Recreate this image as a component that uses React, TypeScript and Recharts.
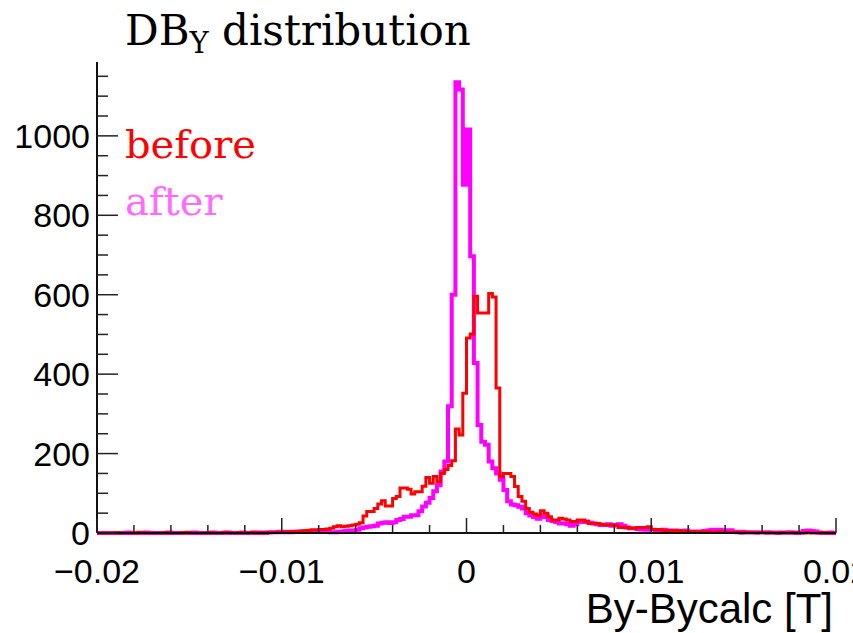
import React from 'react';
import { LineChart, Line, XAxis, YAxis } from 'recharts';

// 200 bins from -0.02 to 0.02 T
const X_MIN = -0.02;
const X_MAX = 0.02;
const BIN_WIDTH = 0.0002;

const beforeCounts = [
  0, 0, 0, 0, 0, 1, 0, 0, 0, 0,
  0, 2, 1, 0, 0, 0, 0, 0, 1, 0,
  0, 0, 0, 1, 2, 0, 0, 0, 0, 0,
  1, 0, 0, 0, 2, 1, 0, 0, 1, 0,
  0, 1, 2, 0, 1, 0, 2, 1, 2, 2,
  2, 3, 3, 4, 4, 5, 6, 7, 8, 8,
  9, 9, 10, 12, 16, 18, 16, 17, 18, 20,
  22, 26, 43, 54, 54, 62, 73, 81, 68, 68,
  87, 92, 113, 113, 110, 98, 104, 104, 118, 140,
  125, 142, 129, 150, 160, 170, 182, 262, 247, 352,
  491, 501, 596, 554, 554, 554, 603, 594, 365, 142,
  150, 150, 142, 117, 92, 80, 62, 52, 48, 44,
  56, 50, 41, 33, 33, 37, 35, 33, 29, 29,
  33, 33, 29, 24, 24, 24, 22, 20, 20, 20,
  20, 14, 14, 14, 12, 12, 14, 14, 14, 16,
  9, 9, 8, 6, 6, 6, 5, 6, 5, 4,
  3, 4, 2, 3, 2, 3, 1, 2, 3, 2,
  2, 1, 2, 1, 0, 2, 1, 1, 0, 1,
  1, 0, 1, 0, 0, 1, 0, 0, 1, 0,
  0, 0, 1, 0, 0, 0, 1, 0, 0, 0,
];

const afterCounts = [
  0, 0, 0, 0, 0, 0, 0, 0, 1, 0,
  0, 0, 0, 1, 0, 0, 0, 0, 0, 1,
  0, 0, 0, 0, 0, 0, 1, 0, 0, 0,
  0, 1, 0, 0, 0, 1, 0, 0, 0, 1,
  0, 0, 1, 0, 1, 0, 1, 2, 2, 3,
  2, 3, 2, 3, 4, 3, 4, 3, 3, 4,
  3, 4, 3, 2, 2, 3, 4, 5, 6, 6,
  8, 12, 14, 16, 17, 18, 24, 26, 27, 25,
  27, 33, 35, 41, 41, 45, 45, 55, 67, 76,
  88, 105, 120, 155, 180, 319, 600, 1135, 1117, 1016,
  877, 697, 428, 272, 230, 222, 180, 163, 150, 134,
  108, 80, 72, 70, 66, 62, 50, 44, 40, 36,
  40, 44, 33, 30, 28, 24, 24, 22, 18, 22,
  29, 28, 29, 26, 24, 22, 20, 20, 22, 18,
  20, 22, 18, 14, 12, 12, 10, 9, 8, 8,
  8, 6, 7, 8, 6, 5, 6, 5, 4, 6,
  4, 3, 4, 3, 5, 6, 8, 7, 8, 7,
  6, 7, 3, 2, 3, 2, 1, 2, 2, 1,
  1, 2, 1, 1, 0, 1, 1, 2, 1, 0,
  1, 5, 6, 5, 4, 1, 0, 0, 1, 0,
];

// the two central "after" bins jitter so fast they look filled: quarter-bin reading
const afterCore = [877, 1016, 877, 1016, 877, 1016, 877, 1016];
const CORE_FIRST_BIN = 99;

const xTicks = [-0.02, -0.01, 0, 0.01, 0.02];
const xTickLabels = ['\u22120.02', '\u22120.01', '0', '0.01', '0.02'];
const yTicks = [0, 200, 400, 600, 800, 1000];
const Y_MAX = 1186;

const xMinorTicks = Array.from({ length: 21 }, (_, i) => X_MIN + i * 0.002);
const yMinorTicks = Array.from({ length: 24 }, (_, i) => i * 50);

const toSteps = (counts: number[], core?: number[]) => {
  const pts: { x: number; y: number }[] = [];
  counts.forEach((c, i) => {
    const x0 = X_MIN + i * BIN_WIDTH;
    if (core && i >= CORE_FIRST_BIN && i < CORE_FIRST_BIN + 2) {
      if (i === CORE_FIRST_BIN) {
        core.forEach((v, j) => pts.push({ x: x0 + (j * BIN_WIDTH) / 4, y: v }));
      }
      return;
    }
    pts.push({ x: x0, y: c });
  });
  pts.push({ x: X_MAX, y: counts[counts.length - 1] });
  return pts;
};

const beforeData = toSteps(beforeCounts);
const afterData = toSteps(afterCounts, afterCore);

const SANS = '"Liberation Sans", Arial, Helvetica, sans-serif';
const SERIF = '"DejaVu Serif", Georgia, serif';

const XTick = (props: any) => {
  const { x, y, payload } = props;
  const idx = xTicks.findIndex((t) => Math.abs(t - payload.value) < 1e-9);
  const major = idx >= 0;
  return (
    <g>
      <line x1={x} x2={x} y1={y} y2={y - (major ? 15 : 8)} stroke="#222" strokeWidth={1.5} />
      {major && (
        <text x={x} y={y + 50} textAnchor="middle" fontSize={34} fontFamily={SANS} fill="#000">
          {xTickLabels[idx]}
        </text>
      )}
    </g>
  );
};

const YTick = (props: any) => {
  const { x, y, payload } = props;
  const major = yTicks.includes(payload.value);
  return (
    <g>
      <line x1={x} x2={x + (major ? 21 : 11)} y1={y} y2={y} stroke="#222" strokeWidth={1.5} />
      {major && (
        <text x={x - 7} y={y + 12} textAnchor="end" fontSize={34} fontFamily={SANS} fill="#000">
          {payload.value}
        </text>
      )}
    </g>
  );
};

export default function App() {
  return (
    <div style={{ position: 'absolute', left: 0, top: 0, width: 853, height: 633, background: '#fff' }}>
      <LineChart width={853} height={633} margin={{ top: 62, right: 17, bottom: 0, left: 0 }}>
        <XAxis
          xAxisId="x"
          dataKey="x"
          type="number"
          domain={[X_MIN, X_MAX]}
          ticks={xMinorTicks}
          interval={0}
          tick={<XTick />}
          tickLine={false}
          tickSize={0}
          tickMargin={0}
          height={100}
          axisLine={{ stroke: '#111', strokeWidth: 2 }}
        />
        <XAxis
          xAxisId="top"
          orientation="top"
          dataKey="x"
          type="number"
          domain={[X_MIN, X_MAX]}
          tick={false}
          tickLine={false}
          height={0}
          axisLine={{ stroke: '#111', strokeWidth: 2 }}
        />
        <YAxis
          yAxisId="y"
          type="number"
          domain={[0, Y_MAX]}
          ticks={yMinorTicks}
          interval={0}
          tick={<YTick />}
          tickLine={false}
          tickSize={0}
          tickMargin={0}
          width={97}
          axisLine={{ stroke: '#111', strokeWidth: 2 }}
        />
        <YAxis
          yAxisId="right"
          orientation="right"
          type="number"
          domain={[0, Y_MAX]}
          tick={false}
          tickLine={false}
          width={0}
          axisLine={{ stroke: '#111', strokeWidth: 2 }}
        />
        <Line
          xAxisId="x"
          yAxisId="y"
          data={afterData}
          dataKey="y"
          type="stepAfter"
          stroke="#ff00ff"
          strokeWidth={4}
          dot={false}
          activeDot={false}
          isAnimationActive={false}
        />
        <Line
          xAxisId="x"
          yAxisId="y"
          data={beforeData}
          dataKey="y"
          type="stepAfter"
          stroke="#ff0000"
          strokeWidth={3}
          dot={false}
          activeDot={false}
          isAnimationActive={false}
        />
      </LineChart>
      <svg
        width={853}
        height={633}
        style={{ position: 'absolute', left: 0, top: 0, pointerEvents: 'none' }}
      >
        <text x={125} y={45} fontFamily={SERIF} fontSize={42} fill="#000">
          DB
          <tspan dy={8} fontSize={29}>Y</tspan>
          <tspan dy={-8} fontSize={42}> distribution</tspan>
        </text>
        <text x={125} y={158} fontFamily={SERIF} fontSize={40} fill="#ff0000">
          before
        </text>
        <text x={125} y={215} fontFamily={SERIF} fontSize={40} fill="#ff6bff">
          after
        </text>
        <text x={833} y={623} textAnchor="end" fontFamily={SANS} fontSize={42} fill="#000">
          By-Bycalc [T]
        </text>
      </svg>
    </div>
  );
}
